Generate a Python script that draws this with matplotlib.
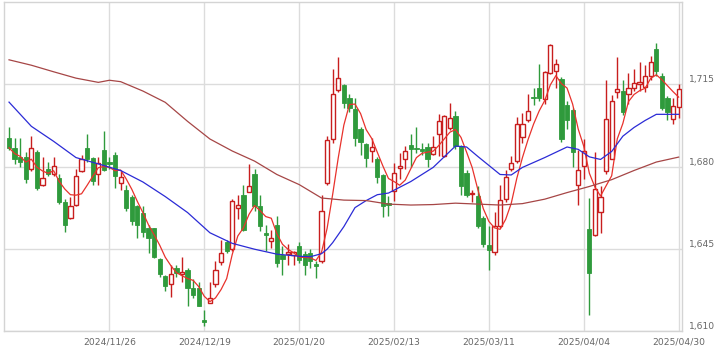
import numpy as np
import pandas as pd
import matplotlib
matplotlib.use("Agg")
import matplotlib.pyplot as plt
from matplotlib.patches import Rectangle

# daily OHLC, 2024/10/30 .. 2025/04/30 (trading days)
opens = [1692, 1688, 1684, 1684, 1679, 1686, 1672, 1679, 1677, 1675,
         1665, 1658, 1663.5, 1678, 1688, 1683.5, 1677, 1687, 1682, 1685,
         1673, 1670, 1667, 1663, 1660, 1654, 1653.8, 1640.7, 1633.6, 1629.9,
         1636.8, 1634.3, 1636, 1628.5, 1628.5, 1614.5, 1622, 1630, 1639.3, 1648,
         1645, 1662.5, 1668, 1669.2, 1676.6, 1663, 1651.5, 1648.5, 1655.2, 1642.4,
         1642.7, 1642.3, 1646, 1642.9, 1643, 1638.3, 1639.6, 1673, 1691.5, 1712.4,
         1714.6, 1709.3, 1704.3, 1696, 1689.4, 1686.5, 1683, 1676.2, 1664.5, 1669.5,
         1679.4, 1683, 1689, 1688, 1687.5, 1688.3, 1685.5, 1694, 1684.4, 1696.4,
         1701.5, 1688.7, 1677.3, 1668.2, 1667.6, 1658, 1646.7, 1643.6, 1654.5, 1666.2,
         1679, 1682.3, 1692.7, 1700, 1709.5, 1713.5, 1708.6, 1720, 1720.6, 1717.4,
         1706, 1704, 1672.3, 1680.1, 1653.3, 1651, 1660.5, 1678, 1683.3, 1711.6,
         1712, 1710.7, 1713.2, 1715, 1714, 1718.3, 1730.2, 1718.3, 1709.3, 1700.3,
         1705.5]
highs = [1697, 1692, 1692, 1686, 1693, 1687, 1684, 1682, 1684, 1677,
         1666, 1667, 1679, 1685, 1694, 1684, 1684, 1695, 1684, 1686,
         1678, 1672, 1668, 1663.8, 1663, 1655, 1654, 1641, 1634, 1638.2,
         1638, 1641.3, 1637, 1632, 1631, 1619, 1631, 1640, 1648.8, 1648.8,
         1666, 1668, 1672.3, 1680.9, 1679, 1668, 1655, 1653, 1658.8, 1646,
         1647, 1644, 1648, 1644, 1645, 1639.6, 1668, 1693, 1721.4, 1726.4,
         1715, 1711, 1709.3, 1697, 1690, 1692, 1684, 1677, 1667.3, 1681.6,
         1685.8, 1688.9, 1694, 1697, 1690, 1690, 1692.8, 1702.2, 1702, 1707.1,
         1703.6, 1689, 1678.7, 1670, 1671.5, 1659, 1654.5, 1660.6, 1672.3, 1678.3,
         1684.4, 1701, 1702.8, 1710.7, 1713.5, 1723.5, 1720.5, 1732.1, 1725.7, 1718,
         1708, 1705, 1687, 1691.5, 1666.6, 1686, 1671.6, 1717, 1710.3, 1726.4,
         1717, 1720, 1721.5, 1724.5, 1723, 1727, 1732.5, 1720, 1710, 1709.3,
         1715]
lows = [1687, 1681, 1680, 1673, 1678, 1670, 1671.5, 1676, 1676, 1664,
        1652, 1657.5, 1663, 1677.5, 1682, 1672, 1672, 1678, 1679, 1671,
        1670, 1661, 1655, 1649.6, 1650, 1643.4, 1641, 1633, 1627, 1624.6,
        1633, 1631, 1620.6, 1624, 1620.5, 1612, 1621.8, 1628.7, 1638.2, 1643,
        1644, 1657.5, 1652.5, 1669, 1661, 1652.5, 1644, 1645.3, 1637.4, 1634,
        1638, 1638, 1638.8, 1634, 1637, 1632.5, 1639, 1672, 1690, 1711.6,
        1705, 1703, 1688.7, 1685, 1679.6, 1682, 1673, 1658.5, 1658.8, 1665.4,
        1674.5, 1679, 1680, 1685.8, 1685, 1679.8, 1685, 1684.4, 1684, 1695.4,
        1687.3, 1668, 1667.2, 1665, 1654, 1645.9, 1636, 1642.5, 1654, 1665,
        1678, 1681.7, 1690, 1699, 1706, 1708, 1706.5, 1719.3, 1713.5, 1690.5,
        1696, 1680, 1663.8, 1674.5, 1617, 1650.5, 1651.8, 1676.6, 1683, 1709.3,
        1702, 1706.5, 1712, 1712, 1711.5, 1717, 1718.6, 1704, 1700, 1697.9,
        1700.8]
closes = [1688, 1683, 1682, 1674.5, 1688, 1671, 1675, 1677, 1680, 1665,
          1655, 1663, 1676, 1683, 1683, 1674, 1681.5, 1678.5, 1681, 1676,
          1675.5, 1662.5, 1656.6, 1655, 1652, 1649.6, 1641.7, 1634.3, 1629.3, 1634.2,
          1634.6, 1635.3, 1628.2, 1625.4, 1620.8, 1614, 1624.2, 1636, 1643.2, 1644,
          1665.5, 1663.5, 1653.1, 1671.9, 1663, 1654.5, 1651, 1649.5, 1638.9, 1640.7,
          1643.6, 1643.7, 1640.3, 1638.2, 1640, 1637.8, 1661.2, 1691.1, 1710.7, 1717.8,
          1707.2, 1705, 1692.2, 1690.4, 1683.7, 1688.3, 1675.6, 1663, 1663.8, 1677.3,
          1680.4, 1686.5, 1687.3, 1687.3, 1686.5, 1683, 1688.4, 1699.3, 1701.5, 1700.7,
          1688.7, 1671.6, 1668, 1668.8, 1654.5, 1647.1, 1644.6, 1654.5, 1665.6, 1675.7,
          1681.3, 1697.9, 1698.2, 1703.7, 1709, 1709.3, 1720.1, 1731.5, 1723.5, 1691.8,
          1700, 1686, 1678.4, 1686.6, 1634.6, 1670.5, 1667, 1700.3, 1707.9, 1713,
          1703.3, 1713.5, 1715.5, 1716, 1718.3, 1724.5, 1720.8, 1705, 1703.2, 1705.7,
          1712.9]

# 25-day and 75-day moving averages
ma25_idx = [0, 4, 8, 12, 16, 20, 24, 28, 32, 36, 40, 44, 48, 52, 54, 56, 57, 58,
            59, 60, 62, 64, 66, 68, 72, 76, 80, 82, 84, 88, 90, 92, 96, 100, 102,
            104, 106, 108, 110, 112, 114, 116, 120]
ma25_val = [1707.4, 1697.1, 1690.7, 1683.8, 1681.1, 1678.3, 1673.4, 1667.2, 1660.4,
            1651.8, 1647.3, 1644.8, 1642.7, 1641.8, 1641.6, 1642.9, 1644.8, 1647.6,
            1651.0, 1654.4, 1662.5, 1665.5, 1668.0, 1668.7, 1673.6, 1679.6, 1688.7,
            1688.3, 1684.3, 1676.6, 1676.4, 1679.6, 1683.8, 1688.3, 1687.3, 1684.1,
            1683.0, 1686.4, 1692.9, 1696.6, 1699.6, 1702.2, 1702.2]
ma75_idx = [0, 4, 8, 12, 16, 18, 20, 24, 28, 32, 36, 40, 44, 48, 52, 56, 60, 64,
            68, 72, 76, 80, 84, 88, 92, 96, 100, 104, 108, 112, 116, 120]
ma75_val = [1725.4, 1723.1, 1720.3, 1717.6, 1715.8, 1716.7, 1716.1, 1712.1, 1707.3,
            1699.2, 1691.7, 1686.6, 1682.3, 1676.6, 1672.3, 1666.6, 1665.7, 1665.5,
            1664.0, 1663.6, 1663.8, 1664.4, 1664.0, 1663.6, 1664.2, 1666.1, 1668.9,
            1671.5, 1674.4, 1678.3, 1681.9, 1684.0]

tick_pos = [18, 35, 52, 69, 86, 103, 120]
tick_labels = ['2024/11/26', '2024/12/19', '2025/01/20', '2025/02/13',
               '2025/03/11', '2025/04/04', '2025/04/30']

up_col = '#c81e1e'
down_col = '#2f9a3c'

fig = plt.figure(figsize=(7.26, 3.52), dpi=100)
ax = fig.add_axes([4/726, 21/352, 678/726, 329/352])

x = np.arange(len(closes))
w = 0.76
for i in x:
    o, h, l, c = opens[i], highs[i], lows[i], closes[i]
    if c >= o:
        ax.vlines(i, l, h, color=up_col, lw=1, zorder=2)
        ax.add_patch(Rectangle((i - w/2, o), w, max(c - o, 0.4), facecolor='white',
                               edgecolor=up_col, lw=1, zorder=3))
    else:
        ax.vlines(i, l, h, color=down_col, lw=1, zorder=2)
        ax.add_patch(Rectangle((i - w/2, c), w, max(o - c, 0.4), facecolor=down_col,
                               edgecolor=down_col, lw=0.6, zorder=3))

ma5 = pd.Series(closes).rolling(5, min_periods=1).mean()
ax.plot(x, ma5, color='#e8322c', lw=0.9, zorder=4)
ax.plot(ma25_idx, ma25_val, color='#2b2bd6', lw=0.9, zorder=4)
ax.plot(ma75_idx, ma75_val, color='#a64646', lw=0.9, zorder=4)

ax.set_xlim(-0.9, 120.6)
ax.set_ylim(1610, 1750)
ax.set_yticks([1610, 1645, 1680, 1715])
ax.set_yticklabels(['1,610', '1,645', '1,680', '1,715'])
ax.set_xticks(tick_pos)
ax.set_xticklabels(tick_labels)
ax.yaxis.tick_right()
ax.tick_params(axis='both', length=0, labelsize=6.6, colors='#666666')
ax.tick_params(axis='x', pad=5)
ax.tick_params(axis='y', pad=5)
for lab in ax.get_yticklabels():
    lab.set_va('bottom')

ax.grid(color='#dcdcdc', lw=1)
ax.set_axisbelow(True)
for s in ax.spines.values():
    s.set_color('#d4d4d4')
    s.set_linewidth(1)

fig.savefig('out.png', dpi=100)
